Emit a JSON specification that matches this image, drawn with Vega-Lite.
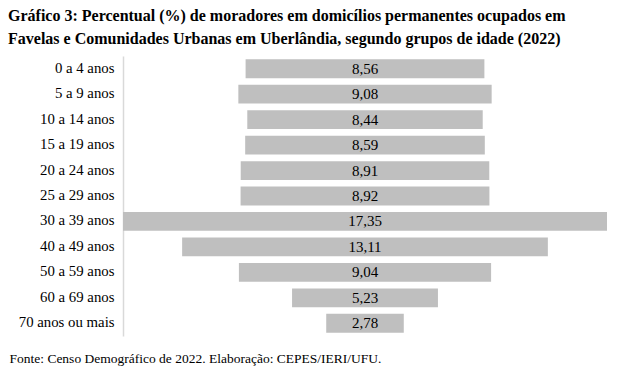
{
  "$schema": "https://vega.github.io/schema/vega-lite/v6.json",
  "width": 484,
  "height": 280,
  "autosize": {"type": "none"},
  "padding": {"left": 123, "top": 56, "right": 12, "bottom": 43},
  "background": "white",
  "title": {
    "text": ["Gráfico 3: Percentual (%) de moradores em domicílios permanentes ocupados em", "Favelas e Comunidades Urbanas em Uberlândia, segundo grupos de idade (2022)"],
    "anchor": "start",
    "frame": "group",
    "dx": -115,
    "offset": 9,
    "font": "Liberation Serif",
    "fontSize": 16,
    "fontWeight": "bold",
    "color": "black",
    "lineHeight": 23
  },
  "config": {
    "view": {"stroke": null},
    "locale": {"number": {"decimal": ",", "thousands": ".", "grouping": [3], "currency": ["R$", ""]}}
  },
  "data": {
    "values": [
      {"grupo": "0 a 4 anos", "valor": 8.56},
      {"grupo": "5 a 9 anos", "valor": 9.08},
      {"grupo": "10 a 14 anos", "valor": 8.44},
      {"grupo": "15 a 19 anos", "valor": 8.59},
      {"grupo": "20 a 24 anos", "valor": 8.91},
      {"grupo": "25 a 29 anos", "valor": 8.92},
      {"grupo": "30 a 39 anos", "valor": 17.35},
      {"grupo": "40 a 49 anos", "valor": 13.11},
      {"grupo": "50 a 59 anos", "valor": 9.04},
      {"grupo": "60 a 69 anos", "valor": 5.23},
      {"grupo": "70 anos ou mais", "valor": 2.78}
    ]
  },
  "encoding": {
    "y": {
      "field": "grupo",
      "type": "nominal",
      "sort": null,
      "scale": {"paddingInner": 0.26, "paddingOuter": 0.13},
      "axis": {
        "title": null,
        "ticks": false,
        "labelPadding": 9,
        "labelFont": "Liberation Serif",
        "labelFontSize": 14.8,
        "labelColor": "black",
        "domainColor": "#d9d9d9",
        "domainWidth": 1.5
      }
    }
  },
  "layer": [
    {
      "mark": {"type": "bar", "color": "#bfbfbf"},
      "encoding": {
        "x": {
          "field": "valor",
          "type": "quantitative",
          "stack": "center",
          "scale": {"domain": [0, 17.35], "nice": false},
          "axis": {
            "labels": false,
            "ticks": false,
            "domain": false,
            "grid": false,
            "title": "Fonte: Censo Demográfico de 2022. Elaboração: CEPES/IERI/UFU.",
            "titleAnchor": "start",
            "titleAlign": "left",
            "titleX": -114,
            "titleY": 26,
            "titleBaseline": "alphabetic",
            "titleFont": "Liberation Serif",
            "titleFontSize": 13.5,
            "titleFontWeight": "normal",
            "titleColor": "black"
          }
        }
      }
    },
    {
      "mark": {"type": "text", "font": "Liberation Serif", "fontSize": 15, "color": "black"},
      "encoding": {
        "x": {"datum": 8.675, "type": "quantitative"},
        "text": {"field": "valor", "type": "quantitative", "format": ".2f"}
      }
    }
  ]
}
